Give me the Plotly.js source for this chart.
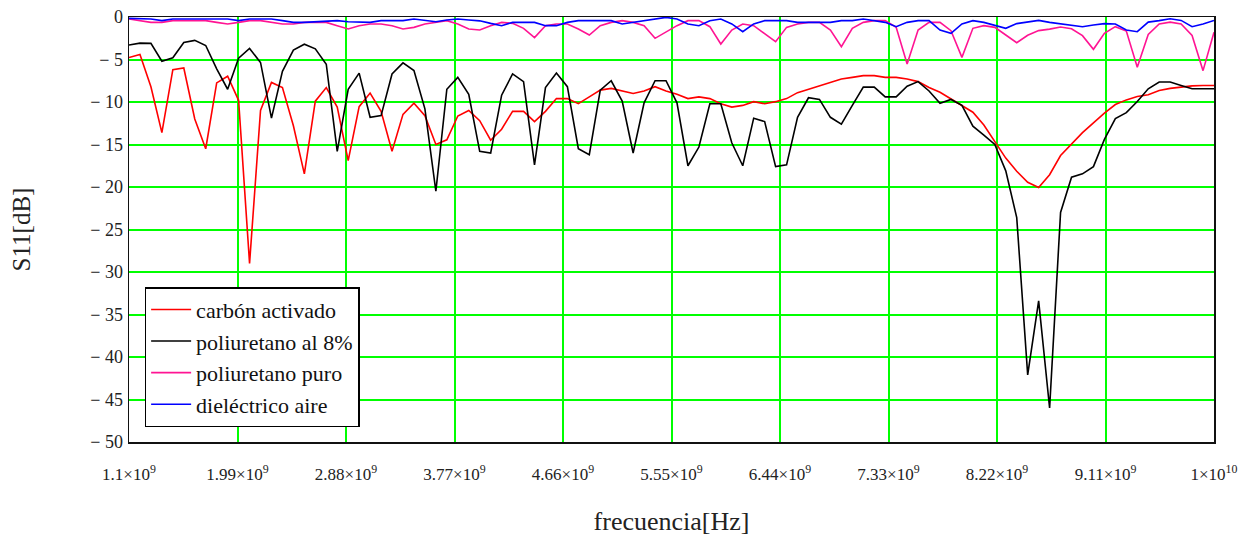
<!DOCTYPE html>
<html><head><meta charset="utf-8">
<script src="https://cdn.plot.ly/plotly-3.0.1.min.js"></script>
<style>html,body{margin:0;padding:0;background:#fff}#chart{width:1260px;height:536px}</style>
</head><body><div id="chart"></div>
<script>
// Frequency sweep: 100 points from 1.1 GHz to 10 GHz
const fStart = 1.1e9;
const fStop = 1e10;
const nPoints = 100;

const carbonActivado = [
 -4.76,-4.4,-8.2,-13.6,-6.2,-6.0,-12.0,-15.5,-7.75,-6.97,
 -9.8,-29.0,-11.0,-7.7,-8.3,-12.8,-18.45,-9.9,-8.3,-10.6,
 -16.9,-10.55,-8.95,-11.1,-15.8,-11.45,-10.15,-11.6,-15.0,-14.45,
 -11.65,-11.0,-12.2,-14.5,-13.2,-11.1,-11.1,-12.3,-11.1,-9.6,
 -9.6,-10.2,-9.4,-8.6,-8.4,-8.7,-9.0,-8.7,-8.2,-8.7,
 -9.1,-9.6,-9.4,-9.6,-10.2,-10.6,-10.4,-9.96,-10.2,-9.96,
 -9.6,-8.9,-8.5,-8.1,-7.7,-7.3,-7.1,-6.9,-6.9,-7.1,
 -7.1,-7.3,-7.6,-8.3,-8.85,-9.65,-10.5,-11.2,-12.7,-14.6,
 -16.6,-18.15,-19.45,-20.05,-18.55,-16.3,-14.95,-13.6,-12.45,-11.3,
 -10.3,-9.75,-9.35,-9.15,-8.65,-8.4,-8.25,-8.1,-8.05,-8.05
];
const poliuretano8 = [
 -3.3,-3.07,-3.1,-5.2,-4.8,-3.0,-2.75,-3.35,-6.1,-8.5,
 -4.85,-3.7,-5.35,-11.9,-6.4,-3.9,-3.2,-3.75,-5.55,-15.8,
 -8.5,-6.6,-11.8,-11.6,-6.7,-5.4,-6.3,-10.8,-20.5,-8.5,
 -7.1,-9.1,-15.8,-16.0,-9.2,-6.7,-7.6,-17.4,-8.3,-6.6,
 -8.2,-15.5,-16.2,-8.6,-7.5,-9.9,-16.0,-10.1,-7.5,-7.5,
 -10.1,-17.5,-15.3,-10.2,-10.2,-14.8,-17.5,-11.9,-12.3,-17.6,
 -17.4,-11.8,-9.5,-9.7,-11.8,-12.6,-10.4,-8.25,-8.25,-9.4,
 -9.4,-8.15,-7.6,-8.7,-10.15,-9.7,-10.4,-12.85,-13.9,-15.0,
 -18.1,-23.6,-42.1,-33.4,-46.0,-23.0,-18.85,-18.45,-17.6,-14.4,
 -11.95,-11.25,-9.95,-8.45,-7.65,-7.65,-8.05,-8.45,-8.45,-8.45
];
const poliuretanoPuro = [
 -0.24,-0.43,-0.63,-0.63,-0.43,-0.43,-0.43,-0.43,-0.63,-0.82,
 -0.63,-0.43,-0.43,-0.63,-0.82,-0.82,-0.63,-0.63,-0.63,-1.02,
 -1.41,-1.02,-0.82,-0.82,-1.02,-1.41,-1.22,-0.82,-0.63,-0.43,
 -0.82,-1.41,-1.53,-1.02,-0.63,-0.75,-1.33,-2.43,-1.02,-0.82,
 -0.82,-1.41,-2.12,-1.02,-0.63,-0.43,-0.63,-1.02,-2.51,-1.73,
 -1.02,-0.43,-0.43,-1.14,-3.18,-1.53,-0.82,-1.02,-1.92,-2.9,
 -1.22,-0.82,-0.63,-0.63,-1.53,-3.5,-1.33,-0.63,-0.43,-0.43,
 -1.22,-5.53,-1.53,-0.63,-0.63,-1.61,-4.75,-1.33,-1.02,-1.22,
 -2.12,-3.02,-2.15,-1.6,-1.43,-1.18,-1.38,-2.2,-3.8,-1.92,
 -1.14,-1.66,-5.92,-2.06,-0.82,-0.6,-0.82,-2.17,-6.31,-1.8
];
const dielectricoAire = [
 -0.16,-0.16,-0.24,-0.43,-0.24,-0.24,-0.24,-0.24,-0.24,-0.24,
 -0.43,-0.24,-0.24,-0.24,-0.43,-0.63,-0.63,-0.55,-0.55,-0.43,
 -0.55,-0.55,-0.63,-0.43,-0.43,-0.43,-0.24,-0.43,-0.55,-0.35,
 -0.24,-0.35,-0.45,-0.75,-1.02,-0.63,-0.63,-0.63,-1.02,-1.02,
 -0.63,-0.43,-0.43,-0.43,-0.43,-0.82,-0.63,-0.43,-0.24,-0.04,
 -0.24,-0.82,-1.02,-0.43,-0.24,-0.82,-1.73,-0.82,-0.43,-0.43,
 -0.43,-0.63,-0.63,-0.63,-0.63,-0.43,-0.43,-0.24,-0.43,-0.63,
 -1.14,-0.63,-0.43,-0.43,-1.53,-1.92,-0.82,-0.43,-0.63,-1.02,
 -1.33,-0.78,-0.63,-0.4,-0.63,-0.78,-0.94,-1.14,-0.94,-0.78,
 -0.82,-1.53,-1.73,-0.6,-0.43,-0.2,-0.4,-1.14,-0.82,-0.4
];

const seriesNames = ["carbón activado", "poliuretano al 8%", "poliuretano puro", "dieléctrico aire"];
const seriesColors = ["#ff0000", "#000000", "#ff1493", "#0000ff"];

const xTickVals = [1.1e9, 1.99e9, 2.88e9, 3.77e9, 4.66e9, 5.55e9, 6.44e9, 7.33e9, 8.22e9, 9.11e9, 1e10];
const xTickText = ["1.1×10<sup>9</sup>", "1.99×10<sup>9</sup>", "2.88×10<sup>9</sup>", "3.77×10<sup>9</sup>",
  "4.66×10<sup>9</sup>", "5.55×10<sup>9</sup>", "6.44×10<sup>9</sup>", "7.33×10<sup>9</sup>",
  "8.22×10<sup>9</sup>", "9.11×10<sup>9</sup>", "1×10<sup>10</sup>"];
const yTickVals = [-50, -45, -40, -35, -30, -25, -20, -15, -10, -5, 0];
const yTickText = ["− 50", "− 45", "− 40", "− 35", "− 30", "− 25", "− 20", "− 15", "− 10", "− 5", "0"];

const freq = [];
for (let i = 0; i < nPoints; i++) freq.push(fStart + i * (fStop - fStart) / (nPoints - 1));

const allSeries = [carbonActivado, poliuretano8, poliuretanoPuro, dielectricoAire];
const traces = allSeries.map((ys, k) => ({
  x: freq, y: ys, type: 'scatter', mode: 'lines',
  name: seriesNames[k], legendgroup: 'g' + k,
  line: {color: seriesColors[k], width: 1.6}
}));

const serif = "Liberation Serif, Times New Roman, serif";
const layout = {
  width: 1260, height: 536,
  margin: {l: 129, r: 46, t: 17, b: 94},
  paper_bgcolor: '#ffffff', plot_bgcolor: '#ffffff',
  font: {family: serif, color: '#222'},
  showlegend: true,
  legend: {
    x: 0.0144, y: 0.035, xanchor: 'left', yanchor: 'bottom',
    bgcolor: '#ffffff', bordercolor: '#000000', borderwidth: 1.5,
    font: {family: serif, size: 22, color: '#111'},
    itemwidth: 40,
    tracegroupgap: 0, traceorder: 'normal'
  },
  xaxis: {
    range: [fStart, fStop], tickmode: 'array', tickvals: xTickVals, ticktext: xTickText,
    showgrid: true, gridcolor: '#00ff00', gridwidth: 2,
    showline: true, linecolor: '#111', linewidth: 1.5, mirror: true,
    zeroline: false, ticks: '', ticklabelstandoff: 16,
    tickfont: {family: serif, size: 17, color: '#222'},
    title: {text: 'frecuencia[Hz]', font: {family: serif, size: 26, color: '#222'}, standoff: 30}
  },
  yaxis: {
    range: [-50, 0], tickmode: 'array', tickvals: yTickVals, ticktext: yTickText,
    showgrid: true, gridcolor: '#00ff00', gridwidth: 2,
    showline: true, linecolor: '#111', linewidth: 1.5, mirror: true,
    zeroline: false, ticks: '', ticklabelstandoff: 1,
    tickfont: {family: serif, size: 18, color: '#222'},
    title: {text: 'S11[dB]', font: {family: serif, size: 25, color: '#222'}, standoff: 52}
  }
};

Plotly.newPlot('chart', traces, layout, {displayModeBar: false, staticPlot: true});
</script>
</body></html>
